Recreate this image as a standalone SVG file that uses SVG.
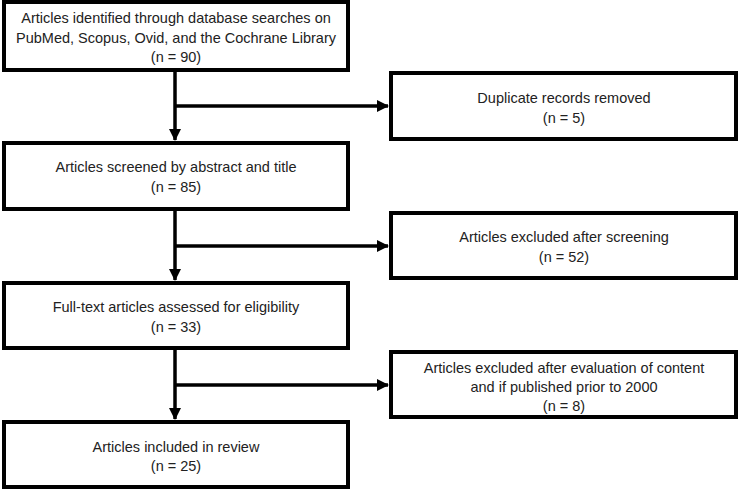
<svg xmlns="http://www.w3.org/2000/svg" width="740" height="492" viewBox="0 0 740 492">
<style>
.box{fill:#fff;stroke:#000;stroke-width:4}
.t{font-family:"Liberation Sans",Arial,sans-serif;font-size:14.5px;fill:#222;text-anchor:middle}
.c{fill:none;stroke:#000;stroke-width:3.5}
</style>
<defs>
<marker id="ah" markerWidth="12" markerHeight="12" viewBox="0 0 12 12" refX="11" refY="6" orient="auto" markerUnits="userSpaceOnUse">
<path d="M0,0 L12,6 L0,12 Z" fill="#000"/>
</marker>
</defs>
<rect width="740" height="492" fill="#fff"/>
<g id="connectors">
<line class="c" x1="175" y1="72" x2="175" y2="140" marker-end="url(#ah)"/>
<line class="c" x1="175" y1="106" x2="388" y2="106" marker-end="url(#ah)"/>
<line class="c" x1="175" y1="211" x2="175" y2="280" marker-end="url(#ah)"/>
<line class="c" x1="175" y1="246" x2="388" y2="246" marker-end="url(#ah)"/>
<line class="c" x1="175" y1="350" x2="175" y2="419" marker-end="url(#ah)"/>
<line class="c" x1="175" y1="385" x2="388" y2="385" marker-end="url(#ah)"/>
</g>
<g id="n1">
<rect class="box" x="4" y="2" width="344" height="68"/>
<text class="t" x="176" y="23">Articles identified through database searches on</text>
<text class="t" x="176" y="43">PubMed, Scopus, Ovid, and the Cochrane Library</text>
<text class="t" x="176" y="62">(n = 90)</text>
</g>
<g id="n2">
<rect class="box" x="4" y="143" width="344" height="66"/>
<text class="t" x="176" y="172">Articles screened by abstract and title</text>
<text class="t" x="176" y="192">(n = 85)</text>
</g>
<g id="n3">
<rect class="box" x="4" y="283" width="344" height="65"/>
<text class="t" x="176" y="312">Full-text articles assessed for eligibility</text>
<text class="t" x="176" y="332">(n = 33)</text>
</g>
<g id="n4">
<rect class="box" x="4" y="422" width="344" height="65"/>
<text class="t" x="176" y="452">Articles included in review</text>
<text class="t" x="176" y="471">(n = 25)</text>
</g>
<g id="r1">
<rect class="box" x="391" y="73" width="345" height="66"/>
<text class="t" x="564" y="103">Duplicate records removed</text>
<text class="t" x="564" y="123">(n = 5)</text>
</g>
<g id="r2">
<rect class="box" x="391" y="213" width="345" height="65"/>
<text class="t" x="564" y="242">Articles excluded after screening</text>
<text class="t" x="564" y="262">(n = 52)</text>
</g>
<g id="r3">
<rect class="box" x="391" y="352" width="345" height="65"/>
<text class="t" x="564" y="373">Articles excluded after evaluation of content</text>
<text class="t" x="564" y="392">and if published prior to 2000</text>
<text class="t" x="564" y="411">(n = 8)</text>
</g>
</svg>
